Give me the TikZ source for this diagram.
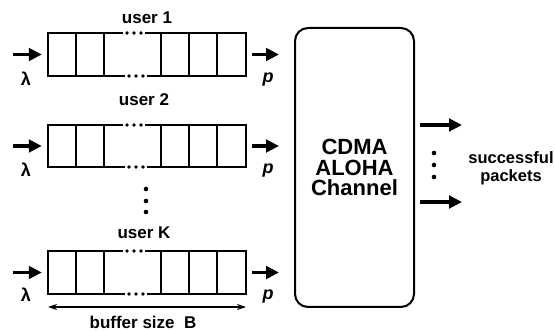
\documentclass[tikz,border=0pt]{standalone}
\usepackage{fontspec}
\setmainfont{Liberation Sans}
\usetikzlibrary{arrows.meta}
\begin{document}
\begin{tikzpicture}[x=1pt,y=-1pt,
  bl/.style={line width=2.4pt, line cap=rect},
  buf/.style={draw=none, minimum width=198pt, minimum height=43pt, inner sep=0pt},
  fat/.style={line width=3.6pt, -{Triangle[length=13pt,width=12.5pt]}},
  lbl/.style={font=\bfseries\fontsize{17}{20}\selectfont, inner sep=0pt},
  sym/.style={font=\bfseries\fontsize{18}{20}\selectfont, inner sep=0pt},
  chan/.style={draw, line width=2pt, rounded corners=13pt, minimum width=119pt, minimum height=279pt,
    align=center, font=\bfseries\fontsize{22}{20.5}\selectfont},
  small/.style={font=\bfseries\fontsize{16.5}{18}\selectfont, align=center, inner sep=0pt},
  dimarrow/.style={line width=1.3pt, {Stealth[length=9pt,width=6pt]}-{Stealth[length=9pt,width=6pt]}}]
\useasboundingbox (0,0) rectangle (555,331);
% buffers
\foreach \n/\t/\b in {1/33/76, 2/125/167, K/251/294} {
  \draw[bl] (122,\t) -- (48,\t) -- (48,\b) -- (124,\b);
  \draw[bl] (146,\t) -- (246,\t) -- (246,\b) -- (148,\b);
  \foreach \x in {76,104,161,189,217} \draw[bl] (\x,\t) -- (\x,\b);
  \foreach \x in {127,134,141} \fill (\x,\t) circle (1.8);
  \foreach \x in {129,136,143} \fill (\x,\b) circle (1.8);
  \node[buf] (buf\n) at (147,{(\t+\b)/2}) {};
}
% user labels
\node[lbl] (u1) at (147,18) {user 1};
\node[lbl] (u2) at (144,100) {user 2};
\node[lbl] (uK) at (144,233) {user K};
% vertical dots between buffers
\foreach \y in {189,201,212} \fill (146,\y) circle (2.3);
% input / output arrows
\coordinate (in1) at (13,54.5);
\coordinate (in2) at (13,146);
\coordinate (inK) at (13,272.5);
\coordinate (out1) at (279,54.5);
\coordinate (out2) at (279,146);
\coordinate (outK) at (279,272.5);
\foreach \n in {1,2,K} {
  \draw[fat, shorten >=6pt] (in\n) -- (buf\n.west);
  \draw[fat, shorten <=6pt] (buf\n.east) -- (out\n);
}
% lambda and p labels
\node[sym] (l1) at (26,79) {λ};
\node[sym] (l2) at (26,170) {λ};
\node[sym] (lK) at (26,295) {λ};
\node[sym] (p1) at (268,80) {\textit{p}};
\node[sym] (p2) at (268,171) {\textit{p}};
\node[sym] (pK) at (268,297) {\textit{p}};
% buffer size
\coordinate (bsL) at (48,307);
\coordinate (bsR) at (246,307);
\draw[dimarrow] (bsL) -- (bsR);
\node[lbl] (bs) at (143,322) {buffer size\ \ B};
% channel
\node[chan] (ch) at (354.5,167.5) {CDMA\\ALOHA\\Channel};
\coordinate (o1) at (462,125);
\coordinate (o2) at (462,202);
\draw[fat, shorten <=5pt] (o1 -| ch.east) -- (o1);
\draw[fat, shorten <=5pt] (o2 -| ch.east) -- (o2);
\foreach \y in {153,165,177} \fill (434,\y) circle (2.3);
\node[small] (succ) at (511,168) {successful\\packets};
\end{tikzpicture}
\end{document}
